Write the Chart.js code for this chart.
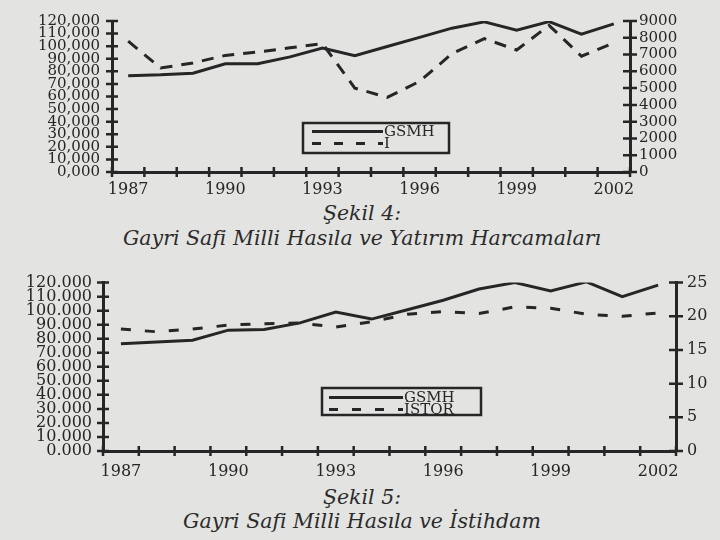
<!DOCTYPE html>
<html lang="tr">
<head>
<meta charset="UTF-8">
<title>Şekil 4 ve Şekil 5</title>
<script src="https://cdn.jsdelivr.net/npm/chart.js"></script>
<style>
    body {
        margin: 0;
        width: 720px;
        height: 540px;
        position: relative;
        overflow: hidden;
        background: #e3e3e1;
        color: #2b2b2b;
        font-family: 'DejaVu Serif', serif;
    }
    canvas { position: absolute; left: 0; }
    #fig4 { top: 0; }
    #fig5 { top: 262px; }
    .caption {
        position: absolute;
        left: 0;
        width: 724px;
        text-align: center;
        font-style: italic;
        font-size: 20.5px;
        line-height: 24px;
    }
</style>
</head>
<body>
<canvas id="fig4" width="720" height="200"></canvas>
<canvas id="fig5" width="720" height="222"></canvas>
<div class="caption" style="top:201px">Şekil 4:</div>
<div class="caption" style="top:226px">Gayri Safi Milli Hasıla ve Yatırım Harcamaları</div>
<div class="caption" style="top:485px">Şekil 5:</div>
<div class="caption" style="top:509px">Gayri Safi Milli Hasıla ve İstihdam</div>

<script>
// values
const years = ['1987', '1988', '1989', '1990', '1991', '1992', '1993', '1994',
               '1995', '1996', '1997', '1998', '1999', '2000', '2001', '2002'];
const yearTicks = ['1987', '1990', '1993', '1996', '1999', '2002'];

// Şekil 4
const gsmhFig4 = [76500, 77200, 78500, 86000, 86000, 91500, 98500, 92500,
                  99700, 107000, 114300, 119300, 112700, 119500, 109500, 117700];
const yatirim = [7800, 6200, 6500, 6950, 7150, 7400, 7650, 5000,
                 4450, 5400, 7050, 7950, 7270, 8740, 6900, 7700];

// Şekil 5
const gsmhFig5 = [76500, 77700, 78900, 86100, 86600, 91300, 99000, 94000,
                  100700, 107400, 115400, 120000, 114000, 120500, 110000, 118200];
const istor = [18.1, 17.7, 18.1, 18.7, 18.9, 19.0, 18.4, 19.2,
               20.3, 20.7, 20.4, 21.4, 21.2, 20.3, 20.0, 20.5];

const ink = '#262626';
const serif = "'DejaVu Serif', serif";

// tick marks that cross the axis lines, like the printed figure
const crossTicks = {
    id: 'crossTicks',
    afterDraw(chart) {
        const { ctx, chartArea, scales } = chart;
        const n = chart.data.labels.length;
        const step = (chartArea.right - chartArea.left) / n;
        ctx.save();
        ctx.strokeStyle = ink;
        ctx.lineWidth = 2.5;
        ctx.beginPath();
        for (let i = 0; i <= n; i++) {
            const px = chartArea.left + i * step;
            ctx.moveTo(px, chartArea.bottom - 5);
            ctx.lineTo(px, chartArea.bottom + 5);
        }
        scales.y.ticks.forEach(t => {
            const py = scales.y.getPixelForValue(t.value);
            ctx.moveTo(chartArea.left - 6, py);
            ctx.lineTo(chartArea.left + 6, py);
        });
        scales.y1.ticks.forEach(t => {
            const py = scales.y1.getPixelForValue(t.value);
            ctx.moveTo(chartArea.right - 7, py);
            ctx.lineTo(chartArea.right + 7, py);
        });
        ctx.stroke();
        ctx.restore();
    }
};

// framed legend inside the plot
const boxLegend = {
    id: 'boxLegend',
    afterDraw(chart, args, o) {
        const ctx = chart.ctx;
        ctx.save();
        ctx.strokeStyle = ink;
        ctx.fillStyle = ink;
        ctx.lineWidth = 2.5;
        ctx.setLineDash([]);
        ctx.strokeRect(o.x, o.y, o.w, o.h);
        ctx.font = o.font;
        ctx.textAlign = 'left';
        ctx.textBaseline = 'middle';
        chart.data.datasets.forEach((ds, i) => {
            const ry = o.y + o.rowTop + i * o.rowGap;
            ctx.lineWidth = ds.borderWidth;
            ctx.setLineDash(ds.borderDash ? o.dash : []);
            ctx.beginPath();
            ctx.moveTo(o.x + o.lineFrom, ry);
            ctx.lineTo(o.x + o.lineTo, ry);
            ctx.stroke();
            ctx.setLineDash([]);
            ctx.fillText(ds.label, o.x + o.textX, ry + 1);
        });
        ctx.restore();
    }
};

function lineSet(label, data, axis, dash) {
    return {
        label: label,
        data: data,
        yAxisID: axis,
        borderColor: ink,
        borderWidth: 3,
        borderDash: dash,
        pointRadius: 0,
        fill: false,
        tension: 0
    };
}

function makeChart(id, sets, cfg) {
    new Chart(document.getElementById(id), {
        type: 'line',
        data: { labels: years, datasets: sets },
        plugins: [crossTicks, boxLegend],
        options: {
            responsive: false,
            animation: false,
            layout: { padding: { top: cfg.top, left: 0, right: 0, bottom: 0 } },
            plugins: {
                legend: { display: false },
                tooltip: { enabled: false },
                boxLegend: cfg.legend
            },
            scales: {
                x: {
                    offset: true,
                    grid: { display: false, drawTicks: false, offset: true },
                    border: { display: true, color: ink, width: 3 },
                    afterFit: s => { s.height = cfg.xHeight; },
                    ticks: {
                        autoSkip: false,
                        maxRotation: 0,
                        padding: cfg.xPad,
                        color: ink,
                        font: { family: serif, size: 16 },
                        callback: function (v) {
                            const y = this.getLabelForValue(v);
                            return yearTicks.includes(y) ? y : '';
                        }
                    }
                },
                y: {
                    position: 'left',
                    min: 0, max: 120000,
                    grid: { display: false, drawTicks: false },
                    border: { display: true, color: ink, width: 3 },
                    afterFit: s => { s.width = cfg.leftW; },
                    ticks: {
                        stepSize: 10000,
                        autoSkip: false,
                        padding: cfg.leftPad,
                        color: ink,
                        font: { family: serif, size: cfg.leftFont },
                        callback: v => (v / 1000).toFixed(0) + cfg.sep + '000'
                    }
                },
                y1: {
                    position: 'right',
                    min: 0, max: cfg.rightMax,
                    grid: { display: false, drawTicks: false },
                    border: { display: true, color: ink, width: 3 },
                    afterFit: s => { s.width = cfg.rightW; },
                    ticks: {
                        stepSize: cfg.rightStep,
                        autoSkip: false,
                        padding: cfg.rightPad,
                        color: ink,
                        font: { family: serif, size: cfg.rightFont },
                        callback: v => String(v)
                    }
                }
            }
        }
    });
}

makeChart('fig4', [
    lineSet('GSMH', gsmhFig4, 'y', undefined),
    lineSet('I', yatirim, 'y1', [12, 9])
], {
    top: 12, xHeight: 28, xPad: 8,
    leftW: 112, leftPad: 12, leftFont: 15, sep: ',',
    rightW: 90, rightPad: 9, rightFont: 15, rightMax: 9000, rightStep: 1000,
    legend: { x: 303, y: 123, w: 146, h: 30, rowTop: 8.5, rowGap: 12,
              lineFrom: 9, lineTo: 80, textX: 81, dash: [9, 13],
              font: '15px ' + serif }
});

makeChart('fig5', [
    lineSet('GSMH', gsmhFig5, 'y', undefined),
    lineSet('İSTOR', istor, 'y1', [10, 14])
], {
    top: 18, xHeight: 33, xPad: 11,
    leftW: 103, leftPad: 11, leftFont: 16, sep: '.',
    rightW: 44, rightPad: 11, rightFont: 16, rightMax: 25, rightStep: 5,
    legend: { x: 322, y: 126, w: 159, h: 27, rowTop: 9.5, rowGap: 12,
              lineFrom: 7, lineTo: 81, textX: 82, dash: [9, 14],
              font: '15px ' + serif }
});
</script>
</body>
</html>
